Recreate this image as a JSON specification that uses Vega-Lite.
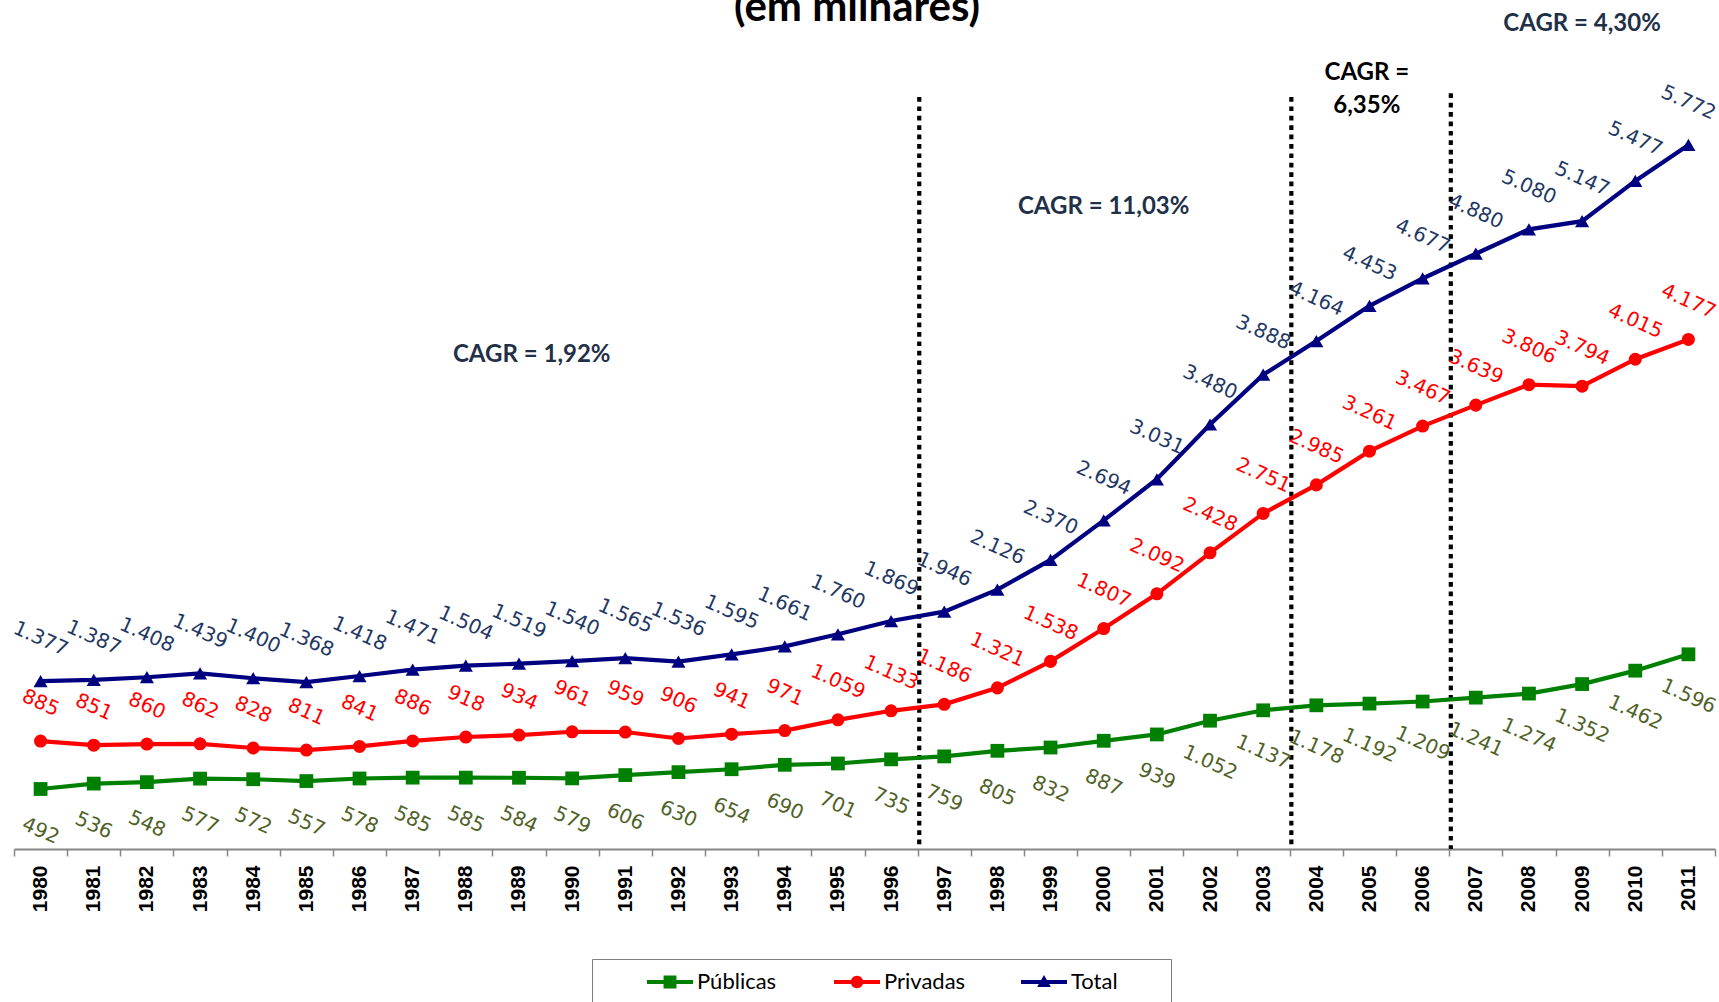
{
  "$schema": "https://vega.github.io/schema/vega-lite/v6.json",
  "width": 1701,
  "height": 849,
  "autosize": {"type": "none"},
  "padding": {"left": 14, "top": 0, "right": 4, "bottom": 153},
  "background": "white",
  "config": {
    "view": {"stroke": null},
    "locale": {"number": {"decimal": ",", "thousands": ".", "grouping": [3], "currency": ["R$", ""]}}
  },
  "datasets": {
    "matriculas": [
      {"year": 1980, "serie": "Públicas", "value": 492}, {"year": 1981, "serie": "Públicas", "value": 536},
      {"year": 1982, "serie": "Públicas", "value": 548}, {"year": 1983, "serie": "Públicas", "value": 577},
      {"year": 1984, "serie": "Públicas", "value": 572}, {"year": 1985, "serie": "Públicas", "value": 557},
      {"year": 1986, "serie": "Públicas", "value": 578}, {"year": 1987, "serie": "Públicas", "value": 585},
      {"year": 1988, "serie": "Públicas", "value": 585}, {"year": 1989, "serie": "Públicas", "value": 584},
      {"year": 1990, "serie": "Públicas", "value": 579}, {"year": 1991, "serie": "Públicas", "value": 606},
      {"year": 1992, "serie": "Públicas", "value": 630}, {"year": 1993, "serie": "Públicas", "value": 654},
      {"year": 1994, "serie": "Públicas", "value": 690}, {"year": 1995, "serie": "Públicas", "value": 701},
      {"year": 1996, "serie": "Públicas", "value": 735}, {"year": 1997, "serie": "Públicas", "value": 759},
      {"year": 1998, "serie": "Públicas", "value": 805}, {"year": 1999, "serie": "Públicas", "value": 832},
      {"year": 2000, "serie": "Públicas", "value": 887}, {"year": 2001, "serie": "Públicas", "value": 939},
      {"year": 2002, "serie": "Públicas", "value": 1052}, {"year": 2003, "serie": "Públicas", "value": 1137},
      {"year": 2004, "serie": "Públicas", "value": 1178}, {"year": 2005, "serie": "Públicas", "value": 1192},
      {"year": 2006, "serie": "Públicas", "value": 1209}, {"year": 2007, "serie": "Públicas", "value": 1241},
      {"year": 2008, "serie": "Públicas", "value": 1274}, {"year": 2009, "serie": "Públicas", "value": 1352},
      {"year": 2010, "serie": "Públicas", "value": 1462}, {"year": 2011, "serie": "Públicas", "value": 1596},
      {"year": 1980, "serie": "Privadas", "value": 885}, {"year": 1981, "serie": "Privadas", "value": 851},
      {"year": 1982, "serie": "Privadas", "value": 860}, {"year": 1983, "serie": "Privadas", "value": 862},
      {"year": 1984, "serie": "Privadas", "value": 828}, {"year": 1985, "serie": "Privadas", "value": 811},
      {"year": 1986, "serie": "Privadas", "value": 841}, {"year": 1987, "serie": "Privadas", "value": 886},
      {"year": 1988, "serie": "Privadas", "value": 918}, {"year": 1989, "serie": "Privadas", "value": 934},
      {"year": 1990, "serie": "Privadas", "value": 961}, {"year": 1991, "serie": "Privadas", "value": 959},
      {"year": 1992, "serie": "Privadas", "value": 906}, {"year": 1993, "serie": "Privadas", "value": 941},
      {"year": 1994, "serie": "Privadas", "value": 971}, {"year": 1995, "serie": "Privadas", "value": 1059},
      {"year": 1996, "serie": "Privadas", "value": 1133}, {"year": 1997, "serie": "Privadas", "value": 1186},
      {"year": 1998, "serie": "Privadas", "value": 1321}, {"year": 1999, "serie": "Privadas", "value": 1538},
      {"year": 2000, "serie": "Privadas", "value": 1807}, {"year": 2001, "serie": "Privadas", "value": 2092},
      {"year": 2002, "serie": "Privadas", "value": 2428}, {"year": 2003, "serie": "Privadas", "value": 2751},
      {"year": 2004, "serie": "Privadas", "value": 2985}, {"year": 2005, "serie": "Privadas", "value": 3261},
      {"year": 2006, "serie": "Privadas", "value": 3467}, {"year": 2007, "serie": "Privadas", "value": 3639},
      {"year": 2008, "serie": "Privadas", "value": 3806}, {"year": 2009, "serie": "Privadas", "value": 3794},
      {"year": 2010, "serie": "Privadas", "value": 4015}, {"year": 2011, "serie": "Privadas", "value": 4177},
      {"year": 1980, "serie": "Total", "value": 1377}, {"year": 1981, "serie": "Total", "value": 1387},
      {"year": 1982, "serie": "Total", "value": 1408}, {"year": 1983, "serie": "Total", "value": 1439},
      {"year": 1984, "serie": "Total", "value": 1400}, {"year": 1985, "serie": "Total", "value": 1368},
      {"year": 1986, "serie": "Total", "value": 1418}, {"year": 1987, "serie": "Total", "value": 1471},
      {"year": 1988, "serie": "Total", "value": 1504}, {"year": 1989, "serie": "Total", "value": 1519},
      {"year": 1990, "serie": "Total", "value": 1540}, {"year": 1991, "serie": "Total", "value": 1565},
      {"year": 1992, "serie": "Total", "value": 1536}, {"year": 1993, "serie": "Total", "value": 1595},
      {"year": 1994, "serie": "Total", "value": 1661}, {"year": 1995, "serie": "Total", "value": 1760},
      {"year": 1996, "serie": "Total", "value": 1869}, {"year": 1997, "serie": "Total", "value": 1946},
      {"year": 1998, "serie": "Total", "value": 2126}, {"year": 1999, "serie": "Total", "value": 2370},
      {"year": 2000, "serie": "Total", "value": 2694}, {"year": 2001, "serie": "Total", "value": 3031},
      {"year": 2002, "serie": "Total", "value": 3480}, {"year": 2003, "serie": "Total", "value": 3888},
      {"year": 2004, "serie": "Total", "value": 4164}, {"year": 2005, "serie": "Total", "value": 4453},
      {"year": 2006, "serie": "Total", "value": 4677}, {"year": 2007, "serie": "Total", "value": 4880},
      {"year": 2008, "serie": "Total", "value": 5080}, {"year": 2009, "serie": "Total", "value": 5147},
      {"year": 2010, "serie": "Total", "value": 5477}, {"year": 2011, "serie": "Total", "value": 5772}
    ]
  },
  "layer": [
    {
      "data": {"values": [{"year": 1997, "top": 6165}, {"year": 2004, "top": 6165}, {"year": 2007, "top": 6195}]},
      "mark": {"type": "rule", "color": "#000000", "strokeWidth": 4.2, "strokeDash": [4.7, 4.7]},
      "encoding": {
        "x": {
          "field": "year", "type": "ordinal", "bandPosition": 0.03,
          "scale": {"type": "band", "paddingInner": 0, "paddingOuter": 0},
          "axis": {
            "title": null, "tickBand": "extent", "labelAngle": -90,
            "labelFont": "Liberation Sans", "labelFontWeight": "bold", "labelFontSize": 21, "labelColor": "#000000",
            "domainColor": "#868686", "domainWidth": 2, "tickColor": "#868686", "tickSize": 7, "tickWidth": 1.5,
            "labelPadding": 9, "grid": false
          }
        },
        "y": {"field": "top", "type": "quantitative", "scale": {"domain": [0, 6960], "nice": false}, "axis": null},
        "y2": {"datum": 0}
      }
    },
    {
      "data": {"name": "matriculas"},
      "mark": {"type": "line", "strokeWidth": 4.2},
      "encoding": {
        "x": {"field": "year", "type": "ordinal", "bandPosition": 0.5},
        "y": {"field": "value", "type": "quantitative"},
        "color": {
          "field": "serie", "type": "nominal",
          "scale": {"domain": ["Públicas", "Privadas", "Total"], "range": ["#008000", "#FF0000", "#000080"]},
          "legend": {
            "orient": "none", "legendX": 578, "legendY": 959, "direction": "horizontal",
            "title": "\u00a0", "titleOrient": "right", "titleFontSize": 60, "titlePadding": 53, "titleColor": "#ffffff",
            "strokeColor": "#808080", "fillColor": "white", "padding": 0, "gridAlign": "all",
            "symbolSize": 2116, "symbolStrokeWidth": 0, "symbolOffset": 55,
            "labelFont": "Lato", "labelFontSize": 22, "labelColor": "#000000", "labelOffset": 4,
            "columnPadding": 0,
            "encode": {
              "symbols": {
                "update": {
                  "shape": {"signal": "datum.value === 'Públicas' ? 'M-1,-0.09H1V0.09H-1Z M-0.28,-0.28H0.28V0.28H-0.28Z' : datum.value === 'Privadas' ? 'M-1,-0.09H1V0.09H-1Z M0.27,0A0.27,0.27 0 1,1 -0.27,0A0.27,0.27 0 1,1 0.27,0Z' : 'M-1,-0.09H1V0.09H-1Z M0,-0.3L0.3,0.22H-0.3Z'"},
                  "fill": {"signal": "scale('color', datum.value)"},
                  "fillOpacity": {"value": 1},
                  "opacity": {"value": 1},
                  "strokeWidth": {"value": 0}
                }
              }
            }
          }
        }
      }
    },
    {
      "data": {"name": "matriculas"},
      "transform": [{"filter": "datum.serie === 'Públicas'"}],
      "mark": {"type": "point", "shape": "square", "filled": true, "opacity": 1, "size": 190, "color": "#008000"},
      "encoding": {
        "x": {"field": "year", "type": "ordinal", "bandPosition": 0.5},
        "y": {"field": "value", "type": "quantitative"}
      }
    },
    {
      "data": {"name": "matriculas"},
      "transform": [{"filter": "datum.serie === 'Privadas'"}],
      "mark": {"type": "point", "shape": "circle", "filled": true, "opacity": 1, "size": 170, "color": "#FF0000"},
      "encoding": {
        "x": {"field": "year", "type": "ordinal", "bandPosition": 0.5},
        "y": {"field": "value", "type": "quantitative"}
      }
    },
    {
      "data": {"name": "matriculas"},
      "transform": [{"filter": "datum.serie === 'Total'"}],
      "mark": {"type": "point", "shape": "triangle-up", "filled": true, "opacity": 1, "size": 200, "color": "#000080"},
      "encoding": {
        "x": {"field": "year", "type": "ordinal", "bandPosition": 0.5},
        "y": {"field": "value", "type": "quantitative"}
      }
    },
    {
      "data": {"name": "matriculas"},
      "transform": [{"filter": "datum.serie === 'Total'"}],
      "mark": {"type": "text", "font": "DejaVu Sans", "fontSize": 20, "angle": 24, "align": "center", "baseline": "middle", "dx": -17.1, "dy": -38.4, "color": "#1F3864"},
      "encoding": {
        "x": {"field": "year", "type": "ordinal", "bandPosition": 0.5},
        "y": {"field": "value", "type": "quantitative"},
        "text": {"field": "value", "type": "quantitative", "format": ",d"}
      }
    },
    {
      "data": {"name": "matriculas"},
      "transform": [{"filter": "datum.serie === 'Privadas'"}],
      "mark": {"type": "text", "font": "DejaVu Sans", "fontSize": 20, "angle": 24, "align": "center", "baseline": "middle", "dx": -15.4, "dy": -34.7, "color": "#FF0000"},
      "encoding": {
        "x": {"field": "year", "type": "ordinal", "bandPosition": 0.5},
        "y": {"field": "value", "type": "quantitative"},
        "text": {"field": "value", "type": "quantitative", "format": ",d"}
      }
    },
    {
      "data": {"name": "matriculas"},
      "transform": [{"filter": "datum.serie === 'Públicas'"}],
      "mark": {"type": "text", "font": "DejaVu Sans", "fontSize": 20, "angle": 24, "align": "center", "baseline": "middle", "dx": 17.1, "dy": 38.4, "color": "#4F6228"},
      "encoding": {
        "x": {"field": "year", "type": "ordinal", "bandPosition": 0.5},
        "y": {"field": "value", "type": "quantitative"},
        "text": {"field": "value", "type": "quantitative", "format": ",d"}
      }
    },
    {
      "data": {"values": [{"year": 1989, "y": 3993, "label": "CAGR = 1,92%"}]},
      "mark": {"type": "text", "font": "Lato", "fontWeight": "bold", "fontSize": 24, "align": "center", "baseline": "alphabetic", "color": "#1F3047"},
      "encoding": {
        "x": {"field": "year", "type": "ordinal", "bandPosition": 0.74},
        "y": {"field": "y", "type": "quantitative"},
        "text": {"field": "label"}
      }
    },
    {
      "data": {"values": [{"year": 2000, "y": 5206, "label": "CAGR = 11,03%"}, {"year": 2009, "y": 6708, "label": "CAGR = 4,30%"}]},
      "mark": {"type": "text", "font": "Lato", "fontWeight": "bold", "fontSize": 24, "align": "center", "baseline": "alphabetic", "color": "#1F3047"},
      "encoding": {
        "x": {"field": "year", "type": "ordinal", "bandPosition": 0.5},
        "y": {"field": "y", "type": "quantitative"},
        "text": {"field": "label"}
      }
    },
    {
      "data": {"values": [{"year": 2005, "y": 6304, "label": "CAGR ="}, {"year": 2005, "y": 6036, "label": "6,35%"}]},
      "mark": {"type": "text", "font": "Lato", "fontWeight": "bold", "fontSize": 24, "align": "center", "baseline": "alphabetic", "color": "#000000"},
      "encoding": {
        "x": {"field": "year", "type": "ordinal", "bandPosition": 0.45},
        "y": {"field": "y", "type": "quantitative"},
        "text": {"field": "label"}
      }
    },
    {
      "data": {"values": [{"year": 1995, "y": 6785, "label": "(em milhares)"}]},
      "mark": {"type": "text", "font": "Lato", "fontWeight": "bold", "fontSize": 42, "align": "center", "baseline": "alphabetic", "color": "#000000"},
      "encoding": {
        "x": {"field": "year", "type": "ordinal", "bandPosition": 0.86},
        "y": {"field": "y", "type": "quantitative"},
        "text": {"field": "label"}
      }
    }
  ]
}
